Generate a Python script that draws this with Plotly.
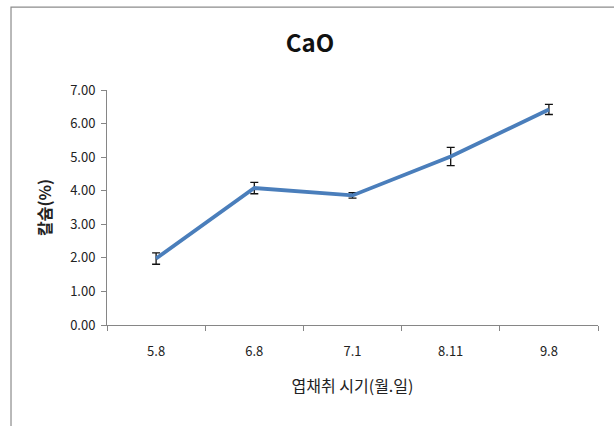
import plotly.graph_objects as go

# Leaf harvest dates (month.day) and calcium content
dates = ["5.8", "6.8", "7.1", "8.11", "9.8"]
cao_pct = [1.98, 4.08, 3.86, 5.02, 6.42]
cao_err = [0.17, 0.17, 0.08, 0.27, 0.15]
y_ticks = [0, 1, 2, 3, 4, 5, 6, 7]

font_kr = "Noto Sans CJK KR, Malgun Gothic, sans-serif"

fig = go.Figure(
    go.Scatter(
        x=dates,
        y=cao_pct,
        mode="lines",
        line=dict(color="#4a7ebb", width=3.8),
        error_y=dict(type="data", array=cao_err, visible=True,
                     color="#111111", thickness=1.3, width=4),
        showlegend=False,
    )
)

fig.update_layout(
    width=614,
    height=426,
    margin=dict(l=107, r=16, t=90, b=101),
    paper_bgcolor="white",
    plot_bgcolor="white",
    font=dict(family=font_kr, color="#222222", size=13),
    title=dict(text="<b>CaO</b>", x=0.505, xanchor="center", y=0.897, yanchor="middle",
               font=dict(family=font_kr, size=24, color="#111111")),
    xaxis=dict(
        type="category",
        range=[-0.5, 4.5],
        showline=True, linecolor="#868686", linewidth=1,
        ticks="outside", tickson="boundaries", ticklen=5, tickcolor="#868686",
        ticklabelstandoff=14,
        showgrid=False, zeroline=False,
        tickfont=dict(size=13, color="#222222"),
        title=dict(text="엽채취 시기(월.일)", standoff=22,
                   font=dict(size=16, color="#222222")),
    ),
    yaxis=dict(
        range=[0, 7],
        tickvals=y_ticks,
        tickformat=".2f",
        showline=True, linecolor="#868686", linewidth=1,
        ticks="outside", ticklen=5, tickcolor="#868686",
        ticklabelstandoff=3,
        showgrid=False, zeroline=False,
        tickfont=dict(size=13, color="#222222"),
        title=dict(text="<b>칼슘(%)</b>", standoff=14,
                   font=dict(size=16, color="#222222")),
    ),
    shapes=[
        # outer chart frame; its right and bottom edges fall outside the page
        dict(type="rect", xref="paper", yref="paper",
             x0=-0.1955, x1=1.1, y0=-0.46, y1=1.353,
             line=dict(color="#8c8c8c", width=1.2), fillcolor="rgba(0,0,0,0)",
             layer="below"),
    ],
)

fig.write_html("out.html")
